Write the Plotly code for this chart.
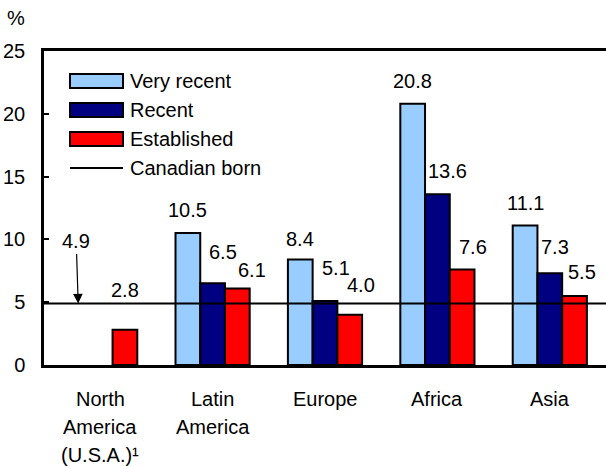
import plotly.graph_objects as go

# ---------------- data ----------------
categories = ["North America (U.S.A.)¹", "Latin America", "Europe", "Africa", "Asia"]
tick_labels = [["North", "America", "(U.S.A.)¹"], ["Latin", "America"], ["Europe"], ["Africa"], ["Asia"]]
very_recent = [None, 10.5, 8.4, 20.8, 11.1]
recent = [None, 6.5, 5.1, 13.6, 7.3]
established = [2.8, 6.1, 4.0, 7.6, 5.5]
canadian_born = 4.9
y_ticks = [0, 5, 10, 15, 20, 25]

series_names = ["Very recent", "Recent", "Established"]
series_values = [very_recent, recent, established]

# ---------------- style ----------------
W, H = 606, 466
L, T, B = 44, 51, 365          # plot-area pixel edges
FONT = "Liberation Sans, Arial, sans-serif"
FS = 20
colors = ["#99CCFF", "#000080", "#FF0000"]
bargap = 0.34
# label offsets (extra x shift, distance above bar top) per series / category
label_offsets = [
    [(0, 23), (0, 23), (0, 21), (0, 23), (0, 23)],
    [(0, 0), (10, 31), (11, 33), (10, 23), (5, 26)],
    [(0, 40), (15, 18), (11, 30), (11, 23), (7, 24)],
]

def px_x(p):
    return (p - L) / (W - L)

def px_y(p):
    return (B - p) / (B - T)

fig = go.Figure()
for name, vals, col in zip(series_names, series_values, colors):
    fig.add_trace(go.Bar(
        x=categories, y=vals, name=name,
        marker=dict(color=col, line=dict(color="black", width=2)),
        showlegend=False,
    ))

shapes = []
# Canadian born reference line
shapes.append(dict(
    type="line", xref="paper", yref="y", x0=0, x1=1,
    y0=canadian_born, y1=canadian_born,
    line=dict(color="black", width=2), layer="above",
))

# value labels
cat_w = (W - L) / len(categories)
bar_w = cat_w * (1 - bargap) / 3
annotations = []
for si, vals in enumerate(series_values):
    for ci, v in enumerate(vals):
        if v is None:
            continue
        dx, dy = label_offsets[si][ci]
        annotations.append(dict(
            x=categories[ci], y=v, xref="x", yref="y",
            text=f"{v:.1f}", showarrow=False,
            xshift=(si - 1) * bar_w + dx, yshift=dy,
            yanchor="middle", xanchor="center",
            font=dict(family=FONT, size=FS, color="black"),
        ))

# category labels (one annotation per line for the original line spacing)
for ci, lines in enumerate(tick_labels):
    for li, line in enumerate(lines):
        annotations.append(dict(
            x=categories[ci], y=0, xref="x", yref="y",
            text=line, showarrow=False, borderpad=0,
            yshift=-(34 + 28 * li), yanchor="middle", xanchor="center",
            font=dict(family=FONT, size=FS, color="black"),
        ))

# canadian-born arrow annotation on North America
annotations.append(dict(
    x=categories[0], y=canadian_born, xref="x", yref="y",
    text=f"{canadian_born:.1f}", showarrow=True,
    arrowhead=2, arrowsize=1.6, arrowwidth=1.2, arrowcolor="black",
    xshift=-22, ax=-2, ay=-62,
    font=dict(family=FONT, size=FS, color="black"),
))

# "%" unit label
annotations.append(dict(
    x=px_x(16), y=px_y(18), xref="paper", yref="paper",
    text="%", showarrow=False, xanchor="center", yanchor="middle",
    font=dict(family=FONT, size=FS, color="black"),
))

# custom legend
leg_y = [81, 110, 139, 168]
for i, (name, col) in enumerate(zip(series_names, colors)):
    shapes.append(dict(
        type="rect", xref="paper", yref="paper",
        x0=px_x(70), x1=px_x(123), y0=px_y(leg_y[i] + 7), y1=px_y(leg_y[i] - 7),
        fillcolor=col, line=dict(color="black", width=2),
    ))
shapes.append(dict(
    type="line", xref="paper", yref="paper",
    x0=px_x(70), x1=px_x(123), y0=px_y(leg_y[3]), y1=px_y(leg_y[3]),
    line=dict(color="black", width=2),
))
for i, name in enumerate(series_names + ["Canadian born"]):
    annotations.append(dict(
        x=px_x(128), y=px_y(leg_y[i]), xref="paper", yref="paper",
        text=name, showarrow=False, xanchor="left", yanchor="middle",
        font=dict(family=FONT, size=FS, color="black"),
    ))

fig.update_layout(
    width=W, height=H,
    margin=dict(l=L, r=0, t=T, b=H - B, pad=0),
    paper_bgcolor="white", plot_bgcolor="white",
    barmode="group", bargap=bargap, bargroupgap=0,
    font=dict(family=FONT, size=FS, color="black"),
    annotations=annotations, shapes=shapes,
    showlegend=False,
)
fig.update_xaxes(
    showticklabels=False,
    showline=True, linecolor="black", linewidth=2.5, mirror=True,
    ticks="", showgrid=False, zeroline=False,
)
fig.update_yaxes(
    range=[0, 25], tickmode="array", tickvals=y_ticks,
    showline=True, linecolor="black", linewidth=2.5,
    ticks="inside", ticklen=5, tickwidth=2, tickcolor="black",
    showgrid=False, zeroline=False,
    tickfont=dict(family=FONT, size=FS, color="black"),
    ticklabelstandoff=12,
)

fig.write_html("out.html")
